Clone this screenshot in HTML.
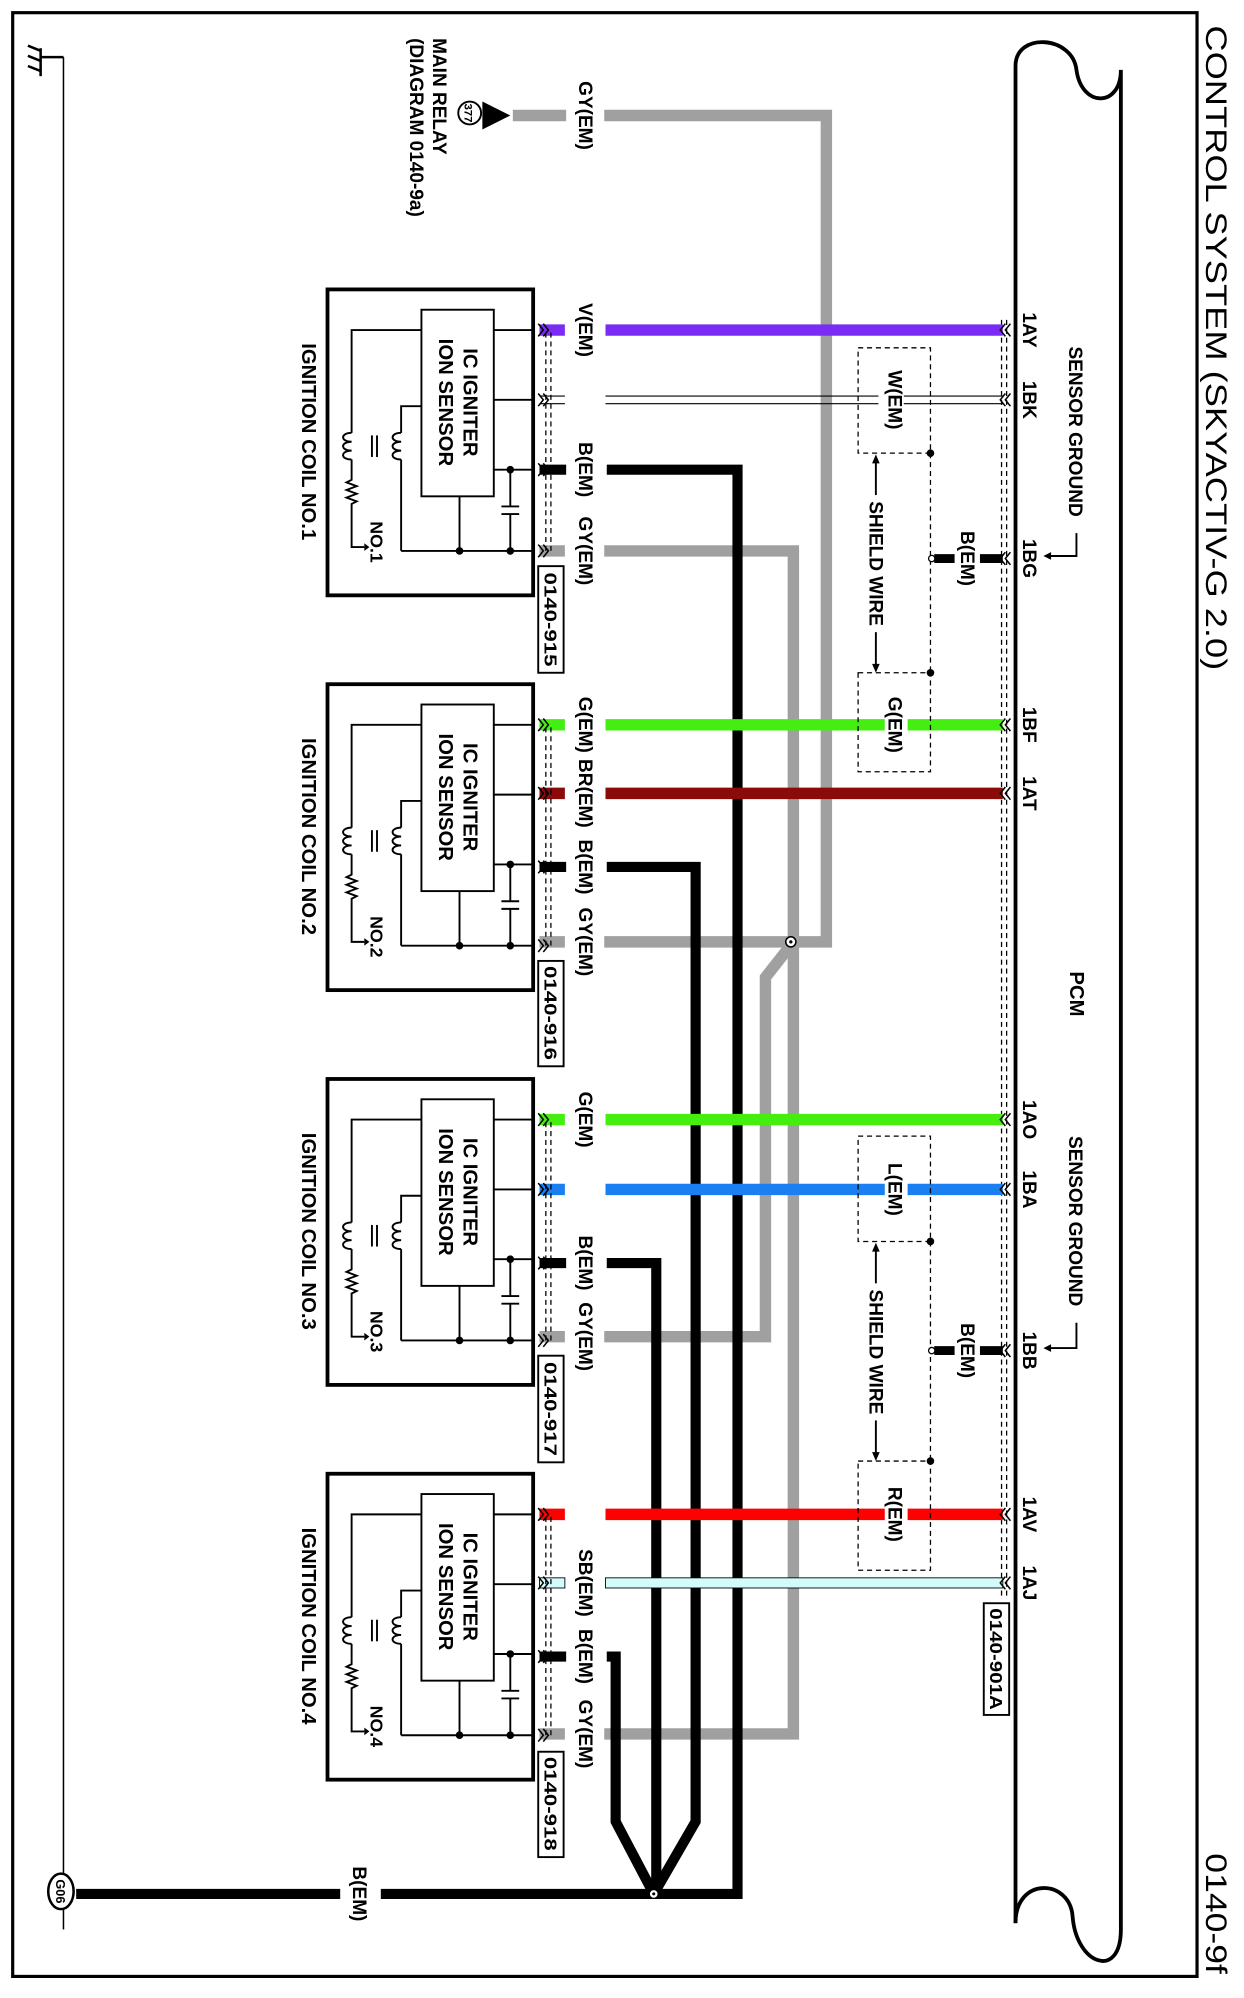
<!DOCTYPE html>
<html><head><meta charset="utf-8">
<style>
html,body{margin:0;padding:0;background:#fff;}
svg{display:block;}
text{font-family:"Liberation Sans",Arial,sans-serif;fill:#000;}
.b{font-weight:bold;}
</style></head>
<body>
<svg width="1244" height="1998" viewBox="0 0 980 1574" preserveAspectRatio="none" xmlns="http://www.w3.org/2000/svg">
<defs>
<g id="coil" fill="none" stroke="#000">
  <rect x="258" y="228" width="162" height="241" stroke-width="3"/>
  <rect x="332" y="244" width="57" height="147" stroke-width="1.5"/>
  <g stroke-width="1.5">
    <line x1="389" y1="260" x2="420" y2="260"/>
    <line x1="389" y1="315" x2="420" y2="315"/>
    <line x1="389" y1="370" x2="420" y2="370"/>
    <line x1="316" y1="434" x2="420" y2="434"/>
    <line x1="402" y1="370" x2="402" y2="399"/>
    <line x1="402" y1="405" x2="402" y2="434"/>
    <line x1="395" y1="399" x2="409" y2="399"/>
    <line x1="395" y1="405" x2="409" y2="405"/>
    <line x1="362" y1="391" x2="362" y2="434"/>
    <polyline points="332,260 277,260 277,341"/>
    <path d="M277,341 c-9,0 -9,7 0,7 c-9,0 -9,7 0,7 c-9,0 -9,7 0,7"/>
    <path d="M277,362 L277,378 l-4,2 l8,3 l-8,3 l8,3 l-8,3 l8,3 l-4,2 L277,431 L287,431"/>
    <polyline points="332,320 316,320 316,341"/>
    <path d="M316,341 c-9,0 -9,7 0,7 c-9,0 -9,7 0,7 c-9,0 -9,7 0,7"/>
    <line x1="316" y1="362" x2="316" y2="434"/>
    <line x1="293" y1="343" x2="293" y2="360"/>
    <line x1="297" y1="343" x2="297" y2="360"/>
  </g>
  <polygon points="287,428 287,434 291,431" fill="#000" stroke="none"/>
  <circle cx="402" cy="370" r="3" fill="#000" stroke="none"/>
  <circle cx="402" cy="434" r="3" fill="#000" stroke="none"/>
  <circle cx="362" cy="434" r="3" fill="#000" stroke="none"/>
  <g stroke-width="1" stroke-dasharray="4,3">
    <line x1="430" y1="262" x2="430" y2="434"/>
    <line x1="434" y1="262" x2="434" y2="434"/>
  </g>
</g>
<path id="chR" d="M424,-5 l4,5 l-4,5 M428,-5 l4,5 l-4,5" fill="none" stroke="#000" stroke-width="1.2"/>
<path id="chL" d="M796,-5 l-4,5 l4,5 M792,-5 l-4,5 l4,5" fill="none" stroke="#000" stroke-width="1.2"/>
</defs>

<rect x="10" y="10" width="933" height="1547" fill="none" stroke="#000" stroke-width="2.5"/>
<text transform="translate(950,20) rotate(90)" font-size="23" textLength="508" lengthAdjust="spacingAndGlyphs">CONTROL SYSTEM (SKYACTIV-G 2.0)</text>
<text transform="translate(950,1460) rotate(90)" font-size="23" textLength="95" lengthAdjust="spacingAndGlyphs">0140-9f</text>

<line x1="50" y1="45" x2="50" y2="1476" stroke="#000" stroke-width="1.2"/>
<line x1="50" y1="1504" x2="50" y2="1520" stroke="#000" stroke-width="1.2"/>
<g stroke="#000" stroke-width="2" fill="none">
  <line x1="32" y1="45" x2="50" y2="45"/>
  <line x1="32" y1="38" x2="32" y2="60"/>
  <line x1="32" y1="40" x2="22" y2="36"/><line x1="32" y1="48" x2="22" y2="44"/><line x1="32" y1="56" x2="22" y2="52"/>
</g>
<ellipse cx="48" cy="1490" rx="10" ry="14" fill="#fff" stroke="#000" stroke-width="2"/>
<text transform="translate(44,1490) rotate(90)" font-size="10" class="b" text-anchor="middle">G06</text>

<circle cx="370" cy="89" r="9" fill="#fff" stroke="#000" stroke-width="1.5"/>
<text transform="translate(366,89) rotate(90)" font-size="9" class="b" text-anchor="middle">377</text>
<polygon points="380,80 380,102 402,91" fill="#000"/>
<text transform="translate(341,30) rotate(90)" font-size="15" class="b">MAIN RELAY</text>
<text transform="translate(323,30) rotate(90)" font-size="15" class="b">(DIAGRAM 0140-9a)</text>

<path d="M800,1515 L800,52 C800,25 845,28 848,55 C852,85 883,85 883,55 L883,1520" fill="none" stroke="#000" stroke-width="3"/>
<path d="M800,1515 C800,1478 843,1480 845,1510 C848,1548 883,1560 883,1520" fill="none" stroke="#000" stroke-width="3"/>
<text transform="translate(843,783) rotate(90)" font-size="16" class="b" text-anchor="middle">PCM</text>
<g stroke-width="1" stroke-dasharray="4,3" stroke="#000">
  <line x1="789" y1="252" x2="789" y2="1258"/>
  <line x1="793" y1="252" x2="793" y2="1258"/>
</g>

<g fill="none" stroke="#a0a0a0" stroke-width="9">
  <polyline points="404,91 446,91"/>
  <polyline points="476,91 651,91 651,742 476,742"/>
  <polyline points="476,434 625,434 625,1366 476,1366"/>
  <polyline points="625,742 603,770 603,1053 476,1053"/>
  <line x1="425" y1="434" x2="445" y2="434"/>
  <line x1="425" y1="742" x2="445" y2="742"/>
  <line x1="425" y1="1053" x2="445" y2="1053"/>
  <line x1="425" y1="1366" x2="445" y2="1366"/>
</g>
<circle cx="623" cy="742" r="4" fill="#fff" stroke="#000" stroke-width="1.2"/>
<circle cx="623" cy="742" r="1.3" fill="#000"/>

<g fill="none" stroke="#000" stroke-width="8">
  <polyline points="478,370 581,370 581,1492 300,1492"/>
  <polyline points="268,1492 60,1492"/>
  <polyline points="478,683 548,683 548,1435 515,1492"/>
  <polyline points="478,995 517,995 517,1492"/>
  <polyline points="478,1305 485,1305 485,1435 515,1492"/>
  <line x1="425" y1="370" x2="446" y2="370"/>
  <line x1="425" y1="683" x2="446" y2="683"/>
  <line x1="425" y1="995" x2="446" y2="995"/>
  <line x1="425" y1="1305" x2="446" y2="1305"/>
</g>
<circle cx="515" cy="1492" r="3.5" fill="#fff" stroke="#000" stroke-width="1"/>
<circle cx="515" cy="1492" r="1.2" fill="#000"/>
<text transform="translate(278,1492) rotate(90)" font-size="15" class="b" text-anchor="middle">B(EM)</text>

<g fill="none" stroke-width="9">
  <line x1="425" y1="260" x2="445" y2="260" stroke="#7a2cf5"/>
  <line x1="477" y1="260" x2="790" y2="260" stroke="#7a2cf5"/>
  <line x1="425" y1="571" x2="445" y2="571" stroke="#44ee11"/>
  <line x1="477" y1="571" x2="697" y2="571" stroke="#44ee11"/>
  <line x1="715" y1="571" x2="790" y2="571" stroke="#44ee11"/>
  <line x1="425" y1="625" x2="445" y2="625" stroke="#8b0a0a"/>
  <line x1="477" y1="625" x2="790" y2="625" stroke="#8b0a0a"/>
  <line x1="425" y1="882" x2="445" y2="882" stroke="#44ee11"/>
  <line x1="477" y1="882" x2="790" y2="882" stroke="#44ee11"/>
  <line x1="425" y1="937" x2="445" y2="937" stroke="#1a7ff0"/>
  <line x1="477" y1="937" x2="697" y2="937" stroke="#1a7ff0"/>
  <line x1="715" y1="937" x2="790" y2="937" stroke="#1a7ff0"/>
  <line x1="425" y1="1193" x2="445" y2="1193" stroke="#ff0000"/>
  <line x1="477" y1="1193" x2="697" y2="1193" stroke="#ff0000"/>
  <line x1="715" y1="1193" x2="790" y2="1193" stroke="#ff0000"/>
</g>
<g stroke="#000" stroke-width="0.9">
  <line x1="425" y1="312" x2="445" y2="312"/><line x1="425" y1="318" x2="445" y2="318"/>
  <line x1="477" y1="312" x2="692" y2="312"/><line x1="477" y1="318" x2="692" y2="318"/>
  <line x1="712" y1="312" x2="790" y2="312"/><line x1="712" y1="318" x2="790" y2="318"/>
</g>
<rect x="425" y="1243" width="20" height="8" fill="#d4fbfb" stroke="#000" stroke-width="0.7"/>
<rect x="477" y="1243" width="313" height="8" fill="#d4fbfb" stroke="#000" stroke-width="0.7"/>

<use href="#coil"/>
<use href="#coil" transform="translate(0,311)"/>
<use href="#coil" transform="translate(0,622)"/>
<use href="#coil" transform="translate(0,933)"/>

<g font-size="16" class="b" text-anchor="middle">
<text transform="translate(365,317) rotate(90)">IC IGNITER</text>
<text transform="translate(346,317) rotate(90)">ION SENSOR</text>
<text transform="translate(238,348) rotate(90)">IGNITION COIL NO.1</text>
<text transform="translate(365,628) rotate(90)">IC IGNITER</text>
<text transform="translate(346,628) rotate(90)">ION SENSOR</text>
<text transform="translate(238,659) rotate(90)">IGNITION COIL NO.2</text>
<text transform="translate(365,939) rotate(90)">IC IGNITER</text>
<text transform="translate(346,939) rotate(90)">ION SENSOR</text>
<text transform="translate(238,970) rotate(90)">IGNITION COIL NO.3</text>
<text transform="translate(365,1250) rotate(90)">IC IGNITER</text>
<text transform="translate(346,1250) rotate(90)">ION SENSOR</text>
<text transform="translate(238,1281) rotate(90)">IGNITION COIL NO.4</text>
</g>
<g font-size="14" class="b" text-anchor="middle">
<text transform="translate(292,427) rotate(90)">NO.1</text>
<text transform="translate(292,738) rotate(90)">NO.2</text>
<text transform="translate(292,1049) rotate(90)">NO.3</text>
<text transform="translate(292,1360) rotate(90)">NO.4</text>
</g>

<g>
<use href="#chR" y="260"/><use href="#chR" y="315"/><use href="#chR" y="370"/><use href="#chR" y="434"/>
<use href="#chR" y="571"/><use href="#chR" y="625"/><use href="#chR" y="683"/><use href="#chR" y="745"/>
<use href="#chR" y="882"/><use href="#chR" y="937"/><use href="#chR" y="995"/><use href="#chR" y="1056"/>
<use href="#chR" y="1193"/><use href="#chR" y="1247"/><use href="#chR" y="1305"/><use href="#chR" y="1367"/>
<use href="#chL" y="260"/><use href="#chL" y="315"/><use href="#chL" y="440"/><use href="#chL" y="571"/><use href="#chL" y="625"/>
<use href="#chL" y="882"/><use href="#chL" y="937"/><use href="#chL" y="1064"/><use href="#chL" y="1193"/><use href="#chL" y="1247"/>
</g>

<g font-size="15" class="b" text-anchor="middle">
<text transform="translate(456,91) rotate(90)">GY(EM)</text>
<text transform="translate(456,260) rotate(90)">V(EM)</text>
<text transform="translate(456,370) rotate(90)">B(EM)</text>
<text transform="translate(456,434) rotate(90)">GY(EM)</text>
<text transform="translate(456,571) rotate(90)">G(EM)</text>
<text transform="translate(456,625) rotate(90)">BR(EM)</text>
<text transform="translate(456,683) rotate(90)">B(EM)</text>
<text transform="translate(456,742) rotate(90)">GY(EM)</text>
<text transform="translate(456,882) rotate(90)">G(EM)</text>
<text transform="translate(456,995) rotate(90)">B(EM)</text>
<text transform="translate(456,1053) rotate(90)">GY(EM)</text>
<text transform="translate(456,1247) rotate(90)">SB(EM)</text>
<text transform="translate(456,1305) rotate(90)">B(EM)</text>
<text transform="translate(456,1366) rotate(90)">GY(EM)</text>
</g>

<g fill="#fff" stroke="#000" stroke-width="1.5">
<rect x="424" y="446" width="20" height="84"/>
<rect x="424" y="757" width="20" height="83"/>
<rect x="424" y="1068" width="20" height="84"/>
<rect x="424" y="1380" width="20" height="83"/>
<rect x="775" y="1263" width="20" height="88"/>
</g>
<g font-size="14" class="b" text-anchor="middle">
<text transform="translate(429,488) rotate(90)" textLength="74" lengthAdjust="spacingAndGlyphs">0140-915</text>
<text transform="translate(429,798) rotate(90)" textLength="74" lengthAdjust="spacingAndGlyphs">0140-916</text>
<text transform="translate(429,1110) rotate(90)" textLength="74" lengthAdjust="spacingAndGlyphs">0140-917</text>
<text transform="translate(429,1421) rotate(90)" textLength="74" lengthAdjust="spacingAndGlyphs">0140-918</text>
<text transform="translate(780,1307) rotate(90)" textLength="80" lengthAdjust="spacingAndGlyphs">0140-901A</text>
</g>

<g fill="none" stroke="#000" stroke-width="1" stroke-dasharray="4,3">
<rect x="676" y="274" width="57" height="83"/>
<rect x="676" y="530" width="57" height="78"/>
<line x1="733" y1="357" x2="733" y2="530"/>
<rect x="676" y="895" width="57" height="83"/>
<rect x="676" y="1151" width="57" height="86"/>
<line x1="733" y1="978" x2="733" y2="1151"/>
</g>
<g fill="#000">
<circle cx="733" cy="357" r="3"/><circle cx="733" cy="530" r="3"/>
<circle cx="733" cy="978" r="3"/><circle cx="733" cy="1151" r="3"/>
</g>
<g stroke="#000" stroke-width="7">
<line x1="736" y1="440" x2="752" y2="440"/><line x1="772" y1="440" x2="790" y2="440"/>
<line x1="736" y1="1064" x2="752" y2="1064"/><line x1="772" y1="1064" x2="790" y2="1064"/>
</g>
<circle cx="734" cy="440" r="2.5" fill="#fff" stroke="#000" stroke-width="1"/>
<circle cx="734" cy="1064" r="2.5" fill="#fff" stroke="#000" stroke-width="1"/>
<g stroke="#000" stroke-width="1.5" fill="none">
<line x1="690" y1="362" x2="690" y2="390"/><line x1="690" y1="498" x2="690" y2="526"/>
<line x1="690" y1="983" x2="690" y2="1011"/><line x1="690" y1="1119" x2="690" y2="1147"/>
</g>
<g fill="#000">
<polygon points="690,358 687,365 693,365"/><polygon points="690,530 687,523 693,523"/>
<polygon points="690,979 687,986 693,986"/><polygon points="690,1151 687,1144 693,1144"/>
</g>
<g font-size="15" class="b" text-anchor="middle">
<text transform="translate(700,315) rotate(90)">W(EM)</text>
<text transform="translate(700,571) rotate(90)">G(EM)</text>
<text transform="translate(685,444) rotate(90)">SHIELD WIRE</text>
<text transform="translate(757,440) rotate(90)">B(EM)</text>
<text transform="translate(700,937) rotate(90)">L(EM)</text>
<text transform="translate(700,1193) rotate(90)">R(EM)</text>
<text transform="translate(685,1065) rotate(90)">SHIELD WIRE</text>
<text transform="translate(757,1064) rotate(90)">B(EM)</text>
</g>

<g font-size="15" class="b" text-anchor="middle">
<text transform="translate(806,260) rotate(90)">1AY</text>
<text transform="translate(806,315) rotate(90)">1BK</text>
<text transform="translate(806,440) rotate(90)">1BG</text>
<text transform="translate(806,571) rotate(90)">1BF</text>
<text transform="translate(806,625) rotate(90)">1AT</text>
<text transform="translate(806,882) rotate(90)">1AO</text>
<text transform="translate(806,937) rotate(90)">1BA</text>
<text transform="translate(806,1064) rotate(90)">1BB</text>
<text transform="translate(806,1193) rotate(90)">1AV</text>
<text transform="translate(806,1247) rotate(90)">1AJ</text>
<text transform="translate(842,340) rotate(90)">SENSOR GROUND</text>
<text transform="translate(842,962) rotate(90)">SENSOR GROUND</text>
</g>
<g stroke="#000" stroke-width="1.5" fill="none">
<polyline points="848,420 848,438 826,438"/>
<polyline points="848,1042 848,1062 826,1062"/>
</g>
<g fill="#000">
<polygon points="822,438 828,435 828,441"/>
<polygon points="822,1062 828,1059 828,1065"/>
</g>
</svg>
</body></html>
